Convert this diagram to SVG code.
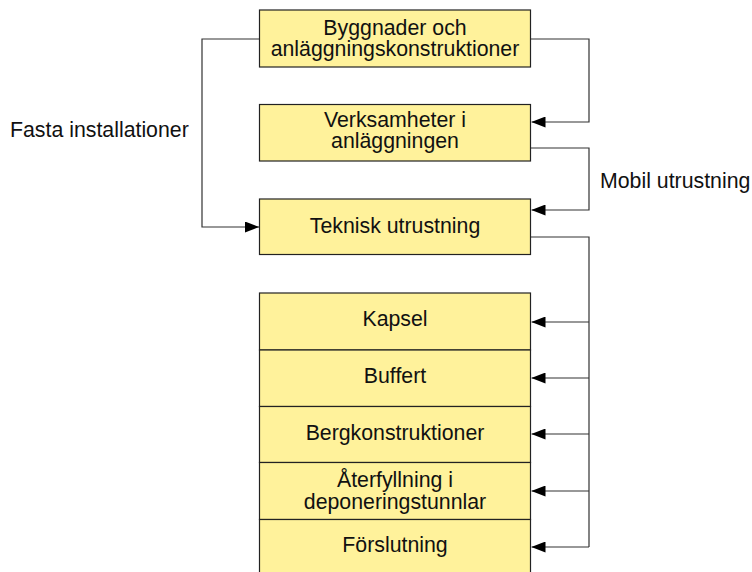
<svg xmlns="http://www.w3.org/2000/svg" width="752" height="572" viewBox="0 0 752 572">
<defs>
<style>
.box{fill:#FFF29B;stroke:#222;stroke-width:1.2}
.t{font-family:"Liberation Sans",Arial,sans-serif;font-size:21.3px;fill:#111;text-anchor:middle}
.l{font-family:"Liberation Sans",Arial,sans-serif;font-size:21.3px;fill:#111}
.c{fill:none;stroke:#333;stroke-width:1.2}
</style>
<marker id="ah" markerWidth="14" markerHeight="11" refX="14" refY="5.5" orient="auto" markerUnits="userSpaceOnUse">
<path d="M0,0 L14,5.5 L0,11 Z" fill="#000"/>
</marker>
</defs>
<rect width="752" height="572" fill="#fff"/>
<g id="connectors">
<polyline class="c" points="531,39 589,39 589,122 531.5,122" marker-end="url(#ah)"/>
<polyline class="c" points="259,39 202,39 202,227 259,227" marker-end="url(#ah)"/>
<polyline class="c" points="531,148 589,148 589,210 531.5,210" marker-end="url(#ah)"/>
<polyline class="c" points="531,237 589,237 589,547"/>
<line class="c" x1="589" y1="322" x2="531.5" y2="322" marker-end="url(#ah)"/>
<line class="c" x1="589" y1="378" x2="531.5" y2="378" marker-end="url(#ah)"/>
<line class="c" x1="589" y1="434" x2="531.5" y2="434" marker-end="url(#ah)"/>
<line class="c" x1="589" y1="491" x2="531.5" y2="491" marker-end="url(#ah)"/>
<line class="c" x1="589" y1="547" x2="531.5" y2="547" marker-end="url(#ah)"/>
<text class="l" x="10" y="137">Fasta installationer</text>
<text class="l" x="600" y="188">Mobil utrustning</text>
</g>
<g id="byggnader">
<rect class="box" x="259.5" y="10" width="271" height="57"/>
<text class="t" x="395" y="34.5">Byggnader och</text>
<text class="t" x="395" y="56">anläggningskonstruktioner</text>
</g>
<g id="verksamheter">
<rect class="box" x="259.5" y="104.5" width="271" height="56.5"/>
<text class="t" x="395" y="126.7">Verksamheter i</text>
<text class="t" x="395" y="148.3">anläggningen</text>
</g>
<g id="teknisk">
<rect class="box" x="259.5" y="199" width="271" height="55.5"/>
<text class="t" x="395" y="233.3">Teknisk utrustning</text>
</g>
<g id="kapsel">
<rect class="box" x="259.5" y="293" width="271" height="57"/>
<text class="t" x="395" y="325.5">Kapsel</text>
</g>
<g id="buffert">
<rect class="box" x="259.5" y="350" width="271" height="56.5"/>
<text class="t" x="395" y="383">Buffert</text>
</g>
<g id="bergkonstruktioner">
<rect class="box" x="259.5" y="406.5" width="271" height="56"/>
<text class="t" x="395" y="439.5">Bergkonstruktioner</text>
</g>
<g id="aterfyllning">
<rect class="box" x="259.5" y="462.5" width="271" height="57"/>
<text class="t" x="395" y="487.3">Återfyllning i</text>
<text class="t" x="395" y="508.5">deponeringstunnlar</text>
</g>
<g id="forslutning">
<rect class="box" x="259.5" y="519.5" width="271" height="60"/>
<text class="t" x="395" y="551.7">Förslutning</text>
</g>
</svg>
